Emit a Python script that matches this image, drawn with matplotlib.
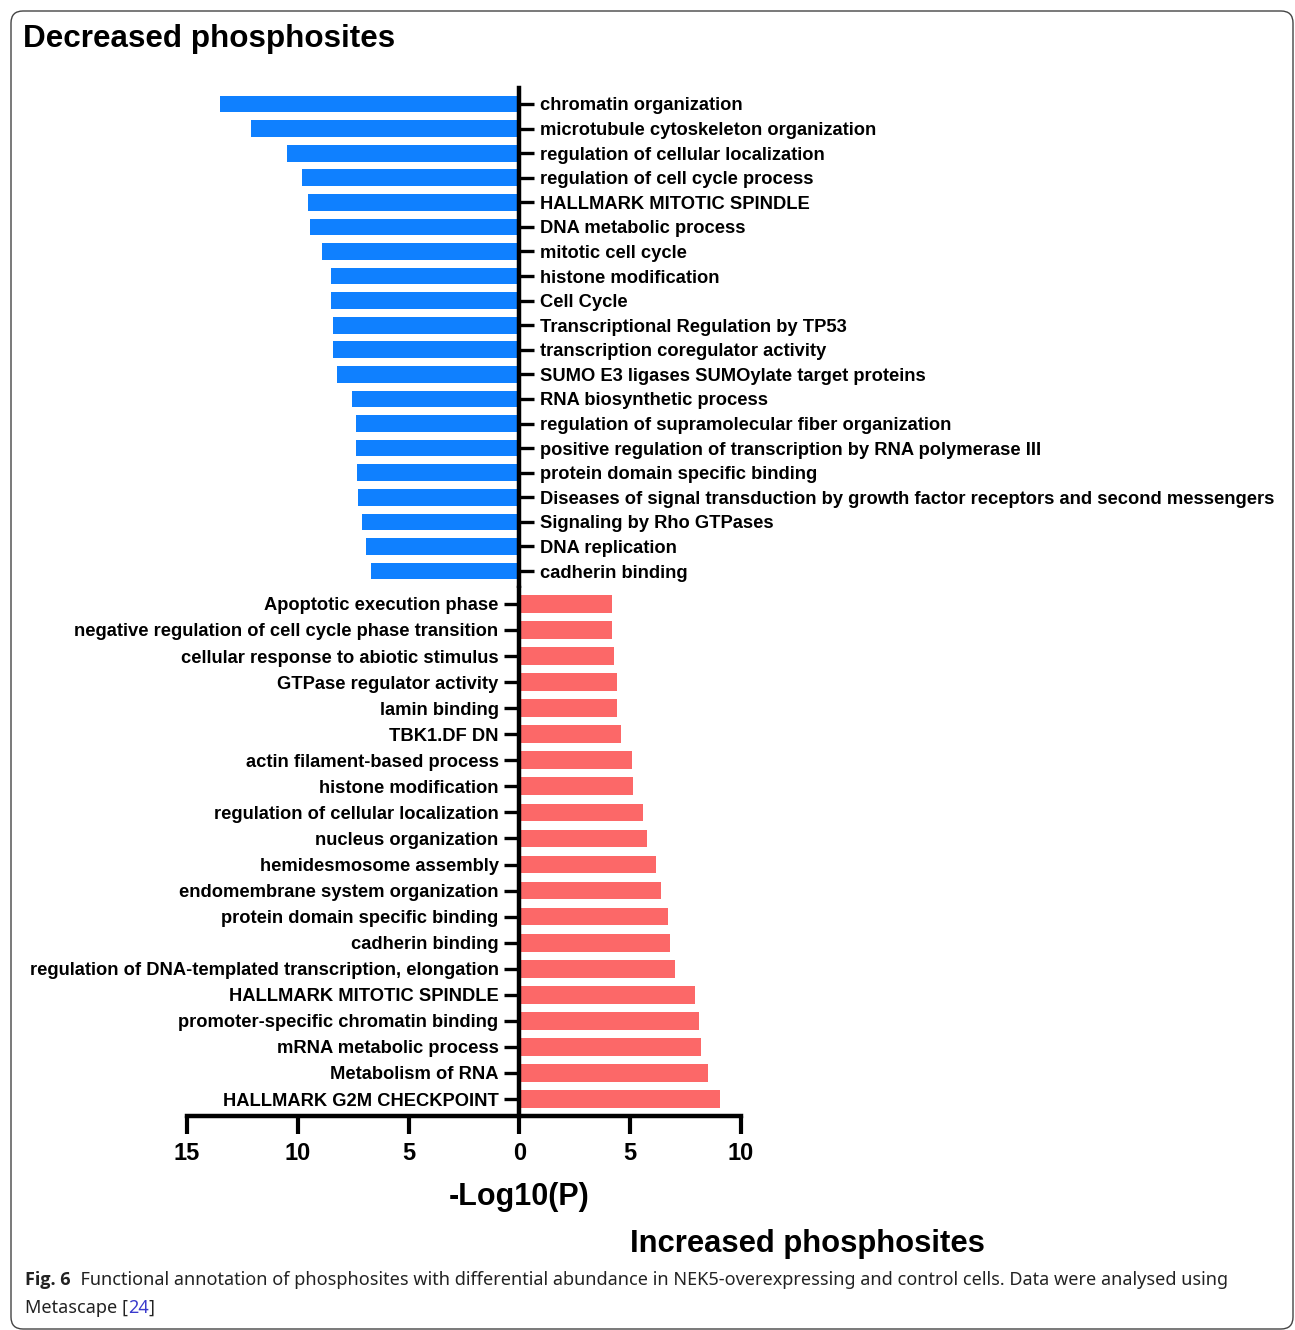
import numpy as np
import matplotlib
matplotlib.use("Agg")
import matplotlib.pyplot as plt
from matplotlib.patches import FancyBboxPatch
from matplotlib.ticker import FuncFormatter

plt.rcParams['font.family'] = ['Liberation Sans', 'DejaVu Sans']

# decreased phosphosites (top, blue)
dec_terms = ["chromatin organization", "microtubule cytoskeleton organization",
             "regulation of cellular localization", "regulation of cell cycle process",
             "HALLMARK MITOTIC SPINDLE", "DNA metabolic process", "mitotic cell cycle",
             "histone modification", "Cell Cycle", "Transcriptional Regulation by TP53",
             "transcription coregulator activity", "SUMO E3 ligases SUMOylate target proteins",
             "RNA biosynthetic process", "regulation of supramolecular fiber organization",
             "positive regulation of transcription by RNA polymerase III",
             "protein domain specific binding",
             "Diseases of signal transduction by growth factor receptors and second messengers",
             "Signaling by Rho GTPases", "DNA replication", "cadherin binding"]
dec_vals = [13.53, 12.12, 10.47, 9.82, 9.55, 9.46, 8.93, 8.48, 8.48, 8.39,
            8.39, 8.21, 7.54, 7.36, 7.36, 7.31, 7.27, 7.09, 6.91, 6.69]

# increased phosphosites (bottom, red)
inc_terms = ["Apoptotic execution phase", "negative regulation of cell cycle phase transition",
             "cellular response to abiotic stimulus", "GTPase regulator activity",
             "lamin binding", "TBK1.DF DN", "actin filament-based process",
             "histone modification", "regulation of cellular localization",
             "nucleus organization", "hemidesmosome assembly",
             "endomembrane system organization", "protein domain specific binding",
             "cadherin binding", "regulation of DNA-templated transcription, elongation",
             "HALLMARK MITOTIC SPINDLE", "promoter-specific chromatin binding",
             "mRNA metabolic process", "Metabolism of RNA", "HALLMARK G2M CHECKPOINT"]
inc_vals = [4.18, 4.18, 4.27, 4.41, 4.41, 4.59, 5.10, 5.14, 5.60, 5.74,
            6.16, 6.39, 6.71, 6.80, 7.03, 7.91, 8.09, 8.18, 8.51, 9.06]

xticks = [-15, -10, -5, 0, 5, 10]

W, H = 1295, 1330
fig = plt.figure(figsize=(W / 100, H / 100), dpi=100)

def rect(x0, y0, x1, y1):
    return [x0 / W, 1 - y1 / H, (x1 - x0) / W, (y1 - y0) / H]

blue = '#0f80ff'
red = '#fc6868'
lw_spine = 3.2
label_fs = 13.2

# top panel
ax1 = fig.add_axes(rect(187, 88, 741, 588))
y1 = np.arange(len(dec_terms))
ax1.barh(y1, -np.array(dec_vals), height=0.68, color=blue)
ax1.set_xlim(-15, 10)
ax1.set_ylim(len(dec_terms) - 0.31, -0.65)
for s in ['top', 'bottom', 'left']:
    ax1.spines[s].set_visible(False)
ax1.spines['right'].set_position(('data', 0))
ax1.spines['right'].set_linewidth(lw_spine)
ax1.yaxis.tick_right()
ax1.set_yticks(y1)
ax1.set_yticklabels(dec_terms, fontsize=label_fs, fontweight='bold')
ax1.tick_params(axis='y', direction='out', length=11, width=2.4, pad=4)
ax1.tick_params(axis='x', bottom=False, labelbottom=False)

# bottom panel
ax2 = fig.add_axes(rect(187, 588, 741, 1116))
y2 = np.arange(len(inc_terms))
ax2.barh(y2, inc_vals, height=0.68, color=red)
ax2.set_xlim(-15, 10)
ax2.set_ylim(len(inc_terms) - 0.35, -0.61)
for s in ['top', 'right']:
    ax2.spines[s].set_visible(False)
ax2.spines['left'].set_position(('data', 0))
ax2.spines['left'].set_linewidth(lw_spine)
ax2.spines['bottom'].set_linewidth(lw_spine)
ax2.set_yticks(y2)
ax2.set_yticklabels(inc_terms, fontsize=label_fs, fontweight='bold')
ax2.tick_params(axis='y', direction='out', length=11, width=2.4, pad=4)
ax2.set_xticks(xticks)
ax2.xaxis.set_major_formatter(FuncFormatter(lambda v, p: f"{abs(v):g}"))
ax2.tick_params(axis='x', direction='out', length=13, width=3, pad=6, labelsize=17)
for t in ax2.get_xticklabels():
    t.set_fontweight('bold')
ax2.set_xlabel('-Log10(P)', fontsize=22, fontweight='bold', labelpad=12)
ax2.xaxis.set_label_coords(0.6, -0.125)

# panel titles
fig.text(23 / W, 1 - 39 / H, 'Decreased phosphosites', fontsize=22.6, fontweight='bold',
         ha='left', va='center')
fig.text(807 / W, 1 - 1244 / H, 'Increased phosphosites', fontsize=22.3, fontweight='bold',
         ha='center', va='center')

# caption
cap_font = ['Noto Sans', 'DejaVu Sans']
c1 = fig.text(25 / W, 1 - 1289 / H, 'Fig. 6', fontsize=13, fontweight='bold',
              family=['Open Sans', 'DejaVu Sans'], color='#222222', va='bottom')
ax2.annotate('  Functional annotation of phosphosites with differential abundance in '
             'NEK5-overexpressing and control cells. Data were analysed using',
             xy=(1, 0), xycoords=c1, va='bottom', ha='left', fontsize=13,
             family=cap_font, color='#222222', annotation_clip=False)
c2 = fig.text(25 / W, 1 - 1317 / H, 'Metascape [', fontsize=13, family=cap_font,
              color='#222222', va='bottom')
c3 = ax2.annotate('24', xy=(1, 0), xycoords=c2, va='bottom', ha='left', fontsize=13,
                  family=cap_font, color='#3a3acc', annotation_clip=False)
ax2.annotate(']', xy=(1, 0), xycoords=c3, va='bottom', ha='left', fontsize=13,
             family=cap_font, color='#222222', annotation_clip=False)

# rounded frame
frame = FancyBboxPatch((11, 1), 1282, 1318, boxstyle='round,pad=0,rounding_size=12',
                       transform=None, fill=False, edgecolor='#444444', linewidth=1)
fig.add_artist(frame)

fig.savefig('out.png', dpi=100)
